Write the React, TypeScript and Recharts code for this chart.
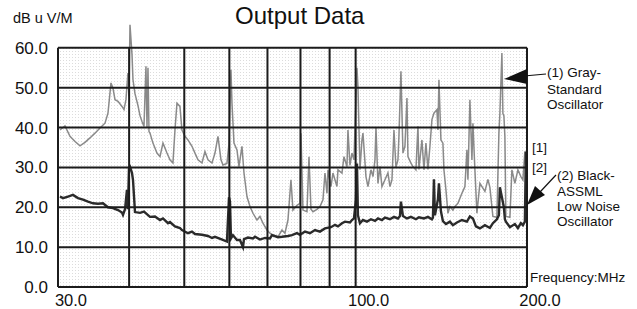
import React from "react";
import { LineChart, Line, XAxis, YAxis, ReferenceLine, ReferenceArea } from "recharts";

const FONT = '"Liberation Sans", Arial, Helvetica, sans-serif';

// (1) Gray - standard oscillator, frequency in MHz and level in dB uV/M
const grayFreq = [
  30.24, 30.86, 31.49, 32.14, 32.79, 33.46, 34.14, 34.84, 35.55, 36.28,
  36.72, 37.17, 37.47, 37.78, 38.24, 38.86, 39.18, 39.49, 39.81, 39.98,
  40.14, 40.47, 40.63, 40.96, 41.46, 41.8, 42.14, 42.48, 42.82, 43.0,
  43.17, 43.35, 43.52, 44.05, 44.77, 45.32, 45.87, 46.62, 47.19, 47.76,
  48.15, 48.54, 49.13, 49.53, 50.14, 50.75, 51.58, 52.21, 52.85, 53.71,
  54.36, 55.03, 55.93, 56.61, 57.3, 58.0, 58.47, 59.42, 59.91, 60.39,
  60.64, 61.13, 61.88, 62.38, 63.14, 63.66, 64.43, 65.22, 66.02, 67.09,
  67.91, 68.74, 69.86, 70.71, 71.57, 73.04, 74.23, 75.13, 76.05, 76.98,
  77.6, 78.87, 79.84, 80.16, 80.81, 82.13, 82.8, 83.47, 84.15, 85.52,
  86.56, 87.62, 88.33, 89.05, 89.41, 90.5, 91.23, 92.72, 93.1, 94.62,
  95.39, 96.55, 96.94, 97.73, 98.52, 99.32, 100.54, 100.94, 101.76, 102.59,
  103.01, 104.26, 105.11, 106.39, 107.26, 108.13, 108.57, 109.45, 110.33, 111.23,
  112.59, 113.96, 114.89, 115.82, 116.76, 117.71, 118.66, 119.14, 120.11, 121.09,
  122.07, 123.07, 123.56, 125.07, 126.09, 127.62, 128.66, 129.18, 130.76, 131.82,
  132.89, 133.97, 135.06, 136.15, 137.26, 138.93, 139.5, 140.06, 141.2, 142.34,
  142.92, 144.08, 145.25, 146.43, 148.22, 149.42, 151.24, 153.71, 155.59, 156.85,
  157.49, 158.76, 160.05, 160.7, 162.0, 163.32, 165.31, 168.69, 170.75, 172.13,
  174.23, 177.07, 178.51, 179.23, 180.69, 181.42, 182.15, 182.89, 183.63, 186.63,
  188.15, 190.44, 192.77, 195.12, 196.71, 198.3, 199.11,
];
const grayLevel = [
  39.4, 40.4, 37.8, 36.5, 35.4, 36.3, 37.4, 38.6, 39.9, 41.1,
  43.6, 51.2, 49.9, 47.0, 46.6, 45.3, 44.5, 47.0, 53.7, 47.8,
  65.8, 58.3, 52.0, 48.5, 45.5, 43.0, 41.5, 40.3, 55.4, 40.0,
  55.0, 39.0, 38.6, 36.1, 33.6, 32.7, 36.1, 33.6, 31.9, 31.1,
  39.4, 46.1, 45.3, 39.4, 37.8, 36.9, 35.3, 33.6, 31.9, 31.1,
  34.0, 31.9, 31.1, 33.6, 37.8, 31.9, 30.6, 31.0, 36.0, 54.5,
  46.1, 36.1, 34.4, 30.2, 35.3, 28.6, 22.7, 20.2, 18.5, 16.8,
  17.7, 16.0, 14.3, 13.5, 13.1, 12.6, 14.3, 13.5, 16.8, 26.9,
  19.3, 20.5, 21.0, 38.6, 19.3, 18.9, 32.7, 19.5, 18.9, 19.5,
  20.2, 21.9, 28.6, 23.5, 29.4, 25.2, 28.6, 25.2, 29.4, 28.6,
  32.7, 30.2, 39.4, 30.5, 33.6, 31.9, 55.0, 50.3, 29.4, 36.9,
  38.6, 27.7, 25.2, 29.4, 27.7, 31.9, 40.0, 26.0, 30.2, 25.2,
  26.9, 28.6, 25.2, 26.9, 39.4, 30.0, 31.9, 37.8, 54.1, 33.6,
  35.3, 47.4, 32.7, 31.1, 30.2, 29.4, 40.3, 29.5, 36.9, 29.4,
  36.1, 29.5, 35.3, 42.0, 43.6, 44.5, 39.4, 52.0, 36.9, 36.1,
  29.4, 24.4, 18.5, 20.2, 19.3, 20.2, 21.0, 23.5, 25.2, 34.4,
  26.9, 47.0, 31.9, 41.1, 29.4, 18.5, 26.0, 24.0, 27.0, 25.0,
  17.7, 17.5, 38.6, 43.5, 58.7, 43.5, 43.0, 37.8, 17.7, 17.5,
  29.4, 26.0, 29.4, 27.7, 26.9, 34.0, 30.0,
];

// (2) Black - ASSML low noise oscillator
const blackFreq = [
  30.24, 30.61, 31.24, 31.87, 32.53, 33.19, 33.87, 34.56, 35.27, 35.99,
  36.72, 37.47, 38.24, 38.86, 39.02, 39.34, 39.65, 39.81, 39.98, 40.14,
  40.47, 40.63, 40.96, 41.8, 42.48, 43.52, 44.41, 45.32, 45.87, 46.81,
  47.19, 48.15, 49.13, 49.53, 50.75, 51.58, 52.21, 53.71, 55.03, 55.93,
  56.61, 58.0, 59.42, 59.91, 60.15, 60.39, 60.88, 61.88, 62.63, 63.4,
  63.66, 64.69, 66.02, 66.55, 67.91, 69.3, 70.71, 71.29, 73.04, 74.23,
  76.05, 77.29, 78.87, 79.84, 81.47, 83.13, 84.83, 86.56, 88.33, 90.5,
  91.98, 93.1, 94.62, 95.77, 97.73, 98.52, 99.32, 100.13, 100.54, 100.94,
  101.76, 103.01, 104.69, 106.39, 108.13, 109.45, 111.23, 112.59, 114.89, 116.76,
  118.66, 119.63, 120.11, 121.09, 123.07, 125.07, 127.62, 129.18, 131.82, 133.97,
  136.15, 136.7, 137.26, 137.81, 139.5, 140.06, 141.2, 142.34, 144.08, 146.43,
  148.22, 150.63, 153.71, 156.85, 158.76, 160.7, 162.66, 165.31, 168.69, 172.13,
  174.23, 177.07, 178.51, 179.23, 182.15, 182.89, 183.63, 186.63, 190.44, 192.77,
  195.12, 196.71, 198.3, 199.11,
];
const blackLevel = [
  22.7, 22.3, 22.7, 23.1, 22.3, 21.9, 21.4, 21.0, 20.9, 21.0,
  20.0, 19.8, 19.3, 18.7, 18.1, 19.5, 24.4, 19.5, 29.9, 30.2,
  28.6, 26.9, 18.8, 18.6, 18.9, 17.6, 17.7, 16.8, 17.2, 16.0,
  16.3, 15.2, 14.8, 14.3, 13.5, 13.9, 13.3, 13.1, 12.8, 12.3,
  12.6, 12.0, 11.4, 22.5, 21.5, 12.2, 13.0, 11.8, 11.8, 10.0,
  12.0, 12.4, 12.2, 12.6, 11.9, 12.3, 12.2, 13.0, 12.5, 12.6,
  12.8, 13.0, 13.5, 13.1, 13.9, 13.5, 14.3, 13.9, 14.7, 15.0,
  15.6, 15.2, 16.0, 16.4, 16.2, 16.8, 17.2, 22.0, 31.0, 18.0,
  16.0, 16.8, 16.4, 17.0, 16.6, 17.2, 16.8, 17.4, 17.0, 17.6,
  17.2, 17.8, 21.4, 17.8, 17.2, 17.6, 17.0, 17.5, 17.2, 17.6,
  17.0, 17.4, 27.0, 18.0, 22.0, 26.0, 19.0, 16.5, 15.8, 16.4,
  15.5, 16.2, 16.8, 16.4, 17.7, 17.2, 15.2, 14.7, 15.5, 14.8,
  16.0, 17.0, 18.0, 25.0, 20.0, 17.0, 16.4, 15.0, 15.8, 14.8,
  16.0, 15.5, 16.4, 34.0,
];

const xTicks = [30, 100, 200];
const yTicks = [0, 10, 20, 30, 40, 50, 60];
const gridFreq = [40, 50, 60, 70, 80, 90, 100];
const gridLevel = [10, 20, 30, 40, 50];

const graySeries = grayFreq.map((f, i) => ({ f, v: grayLevel[i] }));
const blackSeries = blackFreq.map((f, i) => ({ f, v: blackLevel[i] }));

const XTick = ({ x, y, payload }: any) => (
  <text x={x + 13} y={y} dy="0.7em" textAnchor="middle" fontSize={16.5} fontFamily={FONT} fill="#111">
    {Number(payload.value).toFixed(1)}
  </text>
);

const YTick = ({ x, y, payload }: any) => (
  <text x={x} y={y} dy="0.355em" textAnchor="end" fontSize={17} fontFamily={FONT} fill="#111">
    {Number(payload.value).toFixed(1)}
  </text>
);

const labels = [
  { text: "Output Data", left: 235, top: 2, size: 24, lh: 28 },
  { text: "dB u V/M", left: 13, top: 10, size: 14.5, lh: 16 },
  { text: "(1) Gray-", left: 547, top: 65, size: 13.5, lh: 16 },
  { text: "Standard", left: 547, top: 82, size: 13.5, lh: 16 },
  { text: "Oscillator", left: 547, top: 97, size: 13.5, lh: 16 },
  { text: "[1]", left: 532, top: 140, size: 13.5, lh: 16 },
  { text: "[2]", left: 532, top: 160, size: 13.5, lh: 16 },
  { text: "(2) Black-", left: 557, top: 168, size: 13.5, lh: 16 },
  { text: "ASSML", left: 557, top: 184, size: 13.5, lh: 16 },
  { text: "Low Noise", left: 557, top: 199, size: 13.5, lh: 16 },
  { text: "Oscillator", left: 557, top: 214, size: 13.5, lh: 16 },
  { text: "Frequency:MHz", left: 530, top: 270, size: 13.5, lh: 16 },
];

const gridStroke = "#1c1c1c";

export default function App() {
  return (
    <div style={{ position: "absolute", left: 0, top: 0, width: 637, height: 309, background: "#fff" }}>
      <LineChart
        width={637}
        height={309}
        margin={{ top: 8, right: 110, bottom: 0, left: 0 }}
      >
        <defs>
          <pattern id="dots" width="3" height="3" patternUnits="userSpaceOnUse">
            <rect x="0" y="0" width="1" height="1" fill="#dcdcdc" />
          </pattern>
        </defs>
        <XAxis
          dataKey="f"
          type="number"
          scale="log"
          domain={[30, 200]}
          ticks={xTicks}
          allowDataOverflow
          axisLine={false}
          tickLine={false}
          tickMargin={1}
          height={22}
          tick={<XTick />}
        />
        <YAxis
          type="number"
          domain={[0, 70]}
          ticks={yTicks}
          axisLine={false}
          tickLine={false}
          tickMargin={4}
          width={58}
          tick={<YTick />}
        />
        <ReferenceArea x1={30} x2={200} y1={0} y2={60} fill="url(#dots)" fillOpacity={1} stroke="none" />
        <Line
          data={graySeries}
          dataKey="v"
          type="linear"
          stroke="#8a8a8a"
          strokeWidth={1.5}
          dot={false}
          isAnimationActive={false}
        />
        <Line
          data={blackSeries}
          dataKey="v"
          type="linear"
          stroke="#2b2b2b"
          strokeWidth={2.4}
          dot={false}
          isAnimationActive={false}
        />
        {gridFreq.map((f) => (
          <ReferenceLine key={"v" + f} segment={[{ x: f, y: 0 }, { x: f, y: 60 }]} stroke={gridStroke} strokeWidth={2} />
        ))}
        {gridLevel.map((v) => (
          <ReferenceLine key={"h" + v} segment={[{ x: 30, y: v }, { x: 200, y: v }]} stroke={gridStroke} strokeWidth={2} />
        ))}
        <ReferenceLine segment={[{ x: 30, y: 0 }, { x: 30, y: 60 }]} stroke={gridStroke} strokeWidth={2} />
        <ReferenceLine segment={[{ x: 200, y: 0 }, { x: 200, y: 60 }]} stroke={gridStroke} strokeWidth={2} />
        <ReferenceLine segment={[{ x: 30, y: 0 }, { x: 200, y: 0 }]} stroke={gridStroke} strokeWidth={2} />
        <ReferenceLine segment={[{ x: 30, y: 60 }, { x: 200, y: 60 }]} stroke={gridStroke} strokeWidth={2} />
      </LineChart>
      {labels.map((l, i) => (
        <div
          key={i}
          style={{
            position: "absolute",
            left: l.left,
            top: l.top,
            fontSize: l.size,
            lineHeight: l.lh + "px",
            fontFamily: FONT,
            color: "#111",
            whiteSpace: "nowrap",
          }}
        >
          {l.text}
        </div>
      ))}
      <svg width={637} height={309} style={{ position: "absolute", left: 0, top: 0, pointerEvents: "none" }}>
        <line x1={546} y1={74} x2={524} y2={76} stroke="#111" strokeWidth={1.2} />
        <polygon points="504,79 527,69 527,84" fill="#111" />
        <line x1={556} y1={175} x2={540} y2={192} stroke="#111" strokeWidth={1.2} />
        <polygon points="527,205 535,186 545,195" fill="#111" />
      </svg>
    </div>
  );
}
